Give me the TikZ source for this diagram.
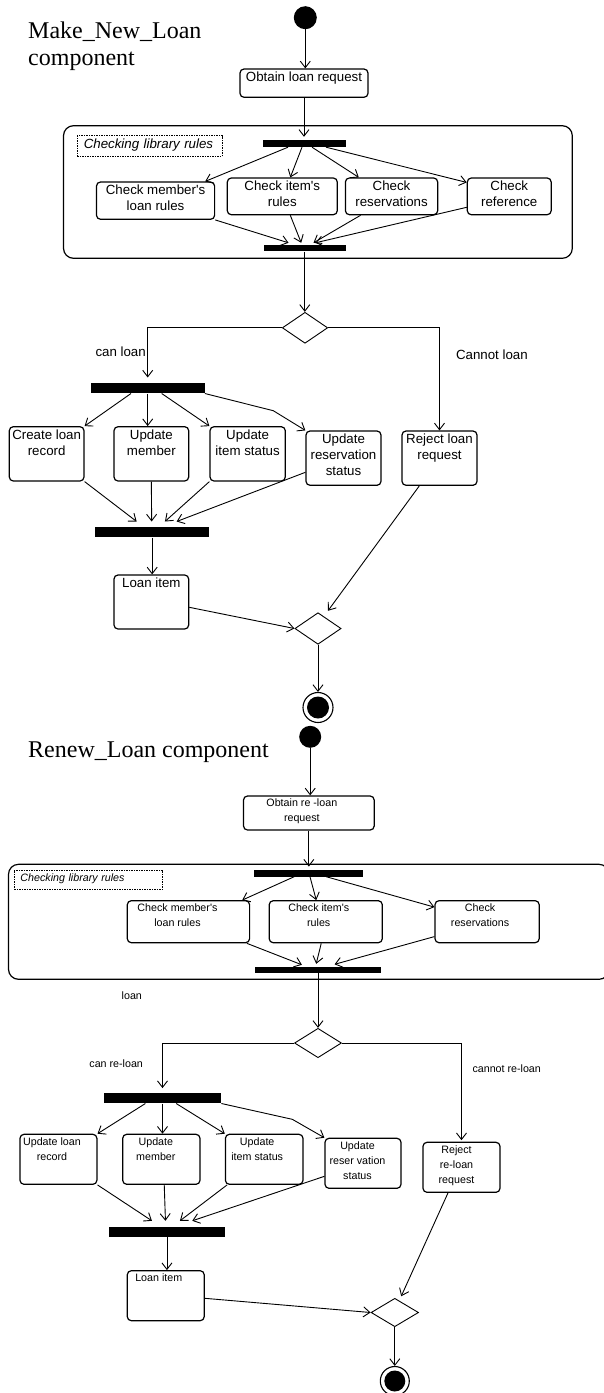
\documentclass[tikz,border=0pt]{standalone}
\usepackage{fontspec}
\setmainfont{Liberation Serif}
\newfontfamily\uisans{Liberation Sans}
\usetikzlibrary{arrows.meta,shapes.geometric,calc}

\tikzset{
  conn/.style={line width=0.9pt, -{Straight Barb[length=6.5pt,width=10pt]}},
  actbox/.style={draw, line width=1.2pt, rounded corners=4pt, inner sep=0pt},
  bigtext/.style={font=\uisans\fontsize{13.3}{16}\selectfont, align=center, inner sep=0pt},
  smalltext/.style={font=\uisans\fontsize{10.7}{15}\selectfont, align=center, inner sep=0pt},
  syncbar/.style={fill=black, draw=none, inner sep=0pt},
  choice/.style={diamond, draw, line width=0.9pt, inner sep=0pt},
  startdot/.style={circle, fill=black, draw=none, inner sep=0pt},
  endring/.style={circle, draw, line width=1.1pt, inner sep=0pt, minimum size=30pt},
  group/.style={draw, line width=1.2pt, rounded corners=10pt, inner sep=0pt},
  tag/.style={draw, line width=0.7pt, dash pattern=on 1.5pt off 1pt, align=left, inner ysep=0pt},
  title/.style={font=\fontsize{24}{27}\selectfont, inner sep=0pt, align=left},
}

% activity box given by its corners, with its text hung from the top edge
\newcommand\actnode[8]{%
  \node[actbox, minimum width={(#4-#2)*1pt}, minimum height={(#5-#3)*1pt}]
    (#1) at ({(#2+#4)/2},{(#3+#5)/2}) {};
  \node[#6, anchor=north] (#1-t) at ([xshift=#7pt, yshift=-3.5pt]#1.north) {#8};}
% fork / join bar given by its corners
\newcommand\syncnode[5]{%
  \node[syncbar, minimum width={(#4-#2)*1pt}, minimum height={(#5-#3)*1pt}]
    (#1) at ({(#2+#4)/2},{(#3+#5)/2}) {};}
% rounded frame of a sub-activity
\newcommand\regionnode[5]{%
  \node[group, minimum width={(#4-#2)*1pt}, minimum height={(#5-#3)*1pt}]
    (#1) at ({(#2+#4)/2},{(#3+#5)/2}) {};}

\begin{document}
\begin{tikzpicture}[x=1pt, y=-1pt]
\useasboundingbox (0,0) rectangle (603,1393);

% ================= Make_New_Loan =================
\node[title, anchor=north west] (t1) at (28,21.6) {Make\_New\_Loan\\component};
\node[startdot, minimum size=23pt] (s1) at (305.3,17.7) {};
\actnode{ob1}{240}{69}{368}{97.3}{bigtext}{0}{Obtain loan request}
\draw[conn] (s1) -- (s1 |- ob1.north);

\regionnode{g1}{63.5}{125.7}{572.3}{258.3}
\node[tag, text width=131.7pt, inner xsep=6.5pt, minimum height=21pt, text depth=4.1pt,
      font=\uisans\itshape\fontsize{13.3}{16}\selectfont] (tag1) at (149.65,146.2) {Checking library rules};

\syncnode{f1}{263}{140}{346}{147}
\draw[conn] (ob1.south) -- ([yshift=3pt]ob1.south |- f1.north);

\actnode{cm1}{96.5}{182}{214.6}{219.3}{bigtext}{0}{Check member\textquotesingle s\\loan rules}
\actnode{ci1}{227.3}{178}{337.3}{214.7}{bigtext}{0}{Check item\textquotesingle s\\rules}
\actnode{cr1}{345.4}{178}{437.7}{214.7}{bigtext}{0}{Check\\reservations}
\actnode{cf1}{467.3}{178}{551.2}{214.7}{bigtext}{0}{Check\\reference}

\draw[conn] ([xshift=-16.5pt]f1.south) -- ([xshift=-10pt]cm1.north east);
\draw[conn] ([xshift=-2.5pt]f1.south) -- ([xshift=8pt]ci1.north);
\draw[conn] ([xshift=7.5pt]f1.south) -- ([xshift=14pt]cr1.north west);
\draw[conn] ([xshift=21.5pt]f1.south) -- ([yshift=-5pt]cf1.north west);

\syncnode{j1}{263.8}{245}{345.8}{251.3}
\draw[conn] (cm1.south east) -- ([xshift=-16.3pt,yshift=2pt]j1.north);
\draw[conn] ([xshift=8pt]ci1.south) -- ([xshift=-3.6pt,yshift=2pt]j1.north);
\draw[conn] ([xshift=-31pt]cr1.south) -- ([xshift=8.7pt,yshift=2pt]j1.north);
\draw[conn] ([yshift=8pt]cf1.south west) -- ([xshift=10.6pt,yshift=2pt]j1.north);

\node[choice, minimum width=45.4pt, minimum height=31pt] (d1) at (305,327.8) {};
\draw[conn] (j1.south) -- (j1.south |- d1.north);

\syncnode{f2}{90.7}{382.7}{204.7}{393.3}
\draw[conn] (d1.west) -| ([yshift=5pt]f2.north);
\node[bigtext, anchor=base east] (lb1) at (146,356.4) {can loan};
\node[bigtext, anchor=base west] (lb2) at (455.8,359.7) {Cannot loan};

\actnode{rj1}{402}{431}{477}{485.3}{bigtext}{0}{Reject loan\\request}
\draw[conn] (d1.east) -| (rj1.north);

\actnode{cl1}{9.3}{426.7}{84}{481}{bigtext}{0}{Create loan\\record}
\actnode{um1}{114}{426.7}{188.7}{481}{bigtext}{0}{Update\\member}
\actnode{us1}{210}{426.7}{285.3}{481}{bigtext}{0}{Update\\item status}
\actnode{ur1}{306}{431}{381}{485.3}{bigtext}{0}{Update\\reservation\\status}

\draw[conn] ([xshift=-16.7pt]f2.south) -- (cl1.north east);
\draw[conn] (f2.south) -- (f2.south |- um1.north);
\draw[conn] ([xshift=14pt]f2.south) -- (us1.north west);
\coordinate (k1) at (273.3,410.7);
\draw[conn] (f2.south east) -- (k1) -- (ur1.north west);

\syncnode{j2}{95}{526.7}{209.3}{537.3}
\draw[conn] (cl1.south east) -- ([xshift=-15.5pt,yshift=5pt]j2.north);
\draw[conn] (um1.south) -- ([xshift=-0.5pt,yshift=5pt]j2.north);
\draw[conn] (us1.south west) -- ([xshift=12.8pt,yshift=5pt]j2.north);
\draw[conn] ([yshift=13.6pt]ur1.south west) -- ([xshift=24.5pt,yshift=5pt]j2.north);

\actnode{li1}{114}{575}{188.7}{629}{bigtext}{0}{Loan item}
\draw[conn] (j2.south) -- (j2.south |- li1.north);

\node[choice, minimum width=46.2pt, minimum height=31.6pt] (m1) at (318,628.5) {};
\draw[conn] ([yshift=-5.3pt]li1.east) -- (m1.west);
\draw[conn] ([xshift=-20.2pt]rj1.south) -- ([xshift=10pt,yshift=1.5pt]m1.north);

\node[endring] (e1) at (318,707.5) {};
\node[startdot, minimum size=22pt] (e1c) at (e1) {};
\draw[conn] (m1.south) -- (e1.north);

% ================= Renew_Loan =================
\node[title, anchor=base west] (t2) at (28,757.3) {Renew\_Loan component};
\node[startdot, minimum size=22pt] (s2) at (310.2,736.8) {};
\actnode{ob2}{243.5}{796}{374.2}{830}{smalltext}{-7}{Obtain re -loan\\request}
\draw[conn] (s2) -- (s2 |- ob2.north);

\regionnode{g2}{8.5}{864.3}{609}{979.3}
\node[tag, text width=136pt, inner xsep=6.2pt, minimum height=19.3pt, text depth=4.9pt,
      font=\uisans\itshape\fontsize{10.7}{15}\selectfont] (tag2) at (88.45,879.65) {Checking library rules};

\syncnode{f3}{254.2}{870.3}{363.1}{876.5}
\draw[conn] (ob2.south) -- ([yshift=3.5pt]ob2.south |- f3.north);

\actnode{cm2}{127.3}{900.7}{249.6}{942.7}{smalltext}{-11}{Check member\textquotesingle s\\loan rules}
\actnode{ci2}{269.2}{900.7}{382.3}{942.7}{smalltext}{-7}{Check item\textquotesingle s\\rules}
\actnode{cr2}{435}{900.7}{539.2}{942.7}{smalltext}{-7}{Check\\reservations}

\draw[conn] ([xshift=-14.45pt]f3.south) -- ([xshift=-8pt]cm2.north east);
\draw[conn] ([xshift=1.35pt]f3.south) -- ([xshift=-9.5pt]ci2.north);
\draw[conn] ([xshift=17.55pt]f3.south) -- ([yshift=-7pt]cr2.north west);

\syncnode{j3}{255}{967}{381}{973}
\draw[conn] ([xshift=-3.4pt]cm2.south east) -- ([xshift=-16.1pt,yshift=2pt]j3.north);
\draw[conn] ([xshift=-4.5pt]ci2.south) -- ([xshift=-1.8pt,yshift=3pt]j3.north);
\draw[conn] ([yshift=6.7pt]cr2.south west) -- ([xshift=16.6pt,yshift=2.5pt]j3.north);

\node[smalltext, anchor=base west] (lb3) at (121.5,999.8) {loan};
\node[choice, minimum width=47pt, minimum height=29.4pt] (d2) at (318,1043) {};
\draw[conn] (j3.south) -- (d2.north);

\syncnode{f4}{103.8}{1093.3}{221.2}{1103.3}
\draw[conn] (d2.west) -| ([yshift=5pt]f4.north);
\node[smalltext, anchor=base west] (lb4) at (89.2,1067.8) {can re-loan};

\actnode{rj2}{423}{1142.3}{500}{1192.3}{smalltext}{-5}{Reject\\re-loan\\request}
\draw[conn] (d2.east) -| ([yshift=1.5pt]rj2.north);
\node[smalltext, anchor=base west] (lb5) at (472.3,1072.1) {cannot re-loan};

\actnode{ul2}{20}{1134.3}{96.9}{1184.3}{smalltext}{-6.5}{Update loan\\record}
\actnode{um2}{122.7}{1134.3}{200}{1184.3}{smalltext}{-5.5}{Update\\member}
\actnode{us2}{225.4}{1134.3}{303}{1184.3}{smalltext}{-7}{Update\\item status}
\actnode{ur2}{325}{1138.3}{401}{1188.3}{smalltext}{-5.5}{Update\\reser vation\\status}

\draw[conn] ([xshift=-17.1pt]f4.south) -- (ul2.north east);
\draw[conn] (f4.south) -- (f4.south |- um2.north);
\draw[conn] ([xshift=13.7pt]f4.south) -- (us2.north west);
\coordinate (k2) at (292.3,1119.3);
\draw[conn] (f4.south east) -- (k2) -- (ur2.north west);

\syncnode{j4}{108.5}{1226.7}{225.4}{1236.7}
\draw[conn] (ul2.south east) -- ([xshift=-15pt,yshift=5.7pt]j4.north);
\draw[conn] ([xshift=2.9pt]um2.south) -- ([xshift=-1.5pt,yshift=5.7pt]j4.north);
\draw[conn] ([xshift=2.3pt]us2.south west) -- ([xshift=13pt,yshift=5.7pt]j4.north);
\draw[conn] ([yshift=12.6pt]ur2.south west) -- ([xshift=25.3pt,yshift=5.7pt]j4.north);

\actnode{li2}{127.3}{1270.7}{204.2}{1320.7}{smalltext}{-7}{Loan item}
\draw[conn] (j4.south) -- (j4.south |- li2.north);

\node[choice, minimum width=47.5pt, minimum height=28.4pt] (m2) at (394.8,1312.5) {};
\draw[conn] ([yshift=-2.6pt]li2.east) -- (m2.west);
\draw[conn] ([xshift=-13.5pt]rj2.south) -- ([xshift=6.4pt,yshift=1.6pt]m2.north);

\node[endring, minimum size=29pt] (e2) at (394.8,1381) {};
\node[startdot, minimum size=21pt] (e2c) at (e2) {};
\draw[conn] (m2.south) -- (e2.north);
\end{tikzpicture}
\end{document}
